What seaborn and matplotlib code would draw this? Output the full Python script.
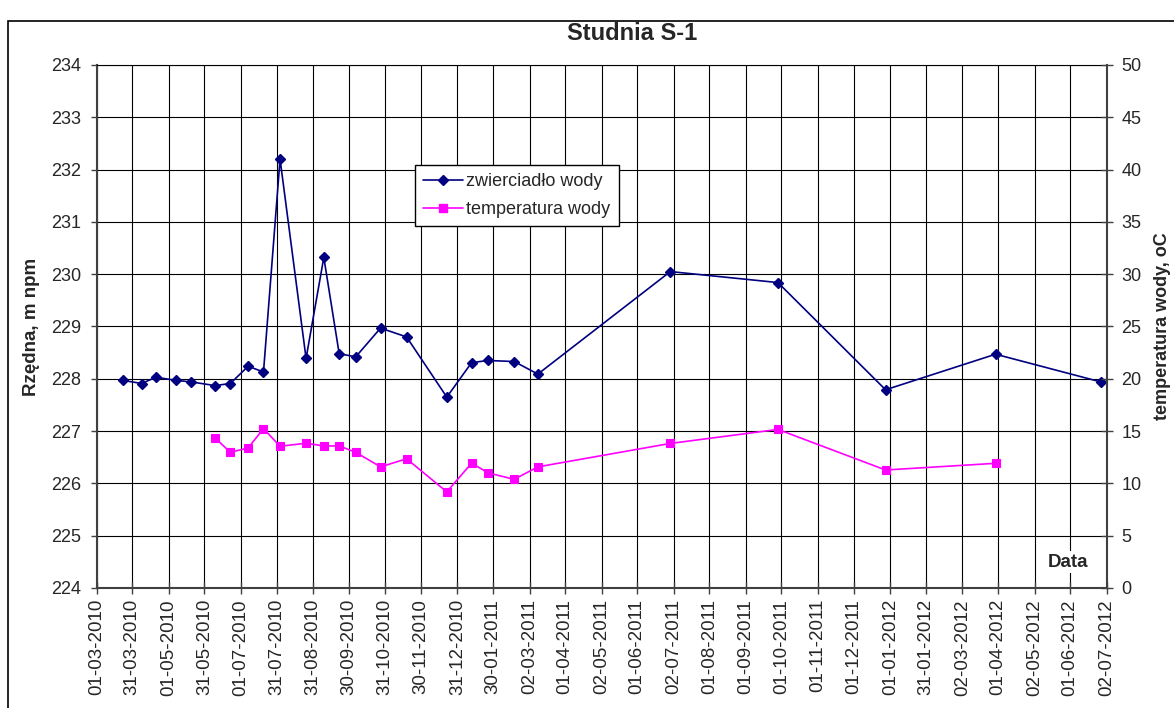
import matplotlib
matplotlib.use("Agg")
import matplotlib.pyplot as plt
from matplotlib.patches import Rectangle
from matplotlib.lines import Line2D
import seaborn as sns
import pandas as pd

# Measurement dates (water table)
dates = [
    "2010-03-23", "2010-04-08", "2010-04-20", "2010-05-07", "2010-05-20",
    "2010-06-09", "2010-06-22", "2010-07-07", "2010-07-20", "2010-08-03",
    "2010-08-25", "2010-09-09", "2010-09-22", "2010-10-06", "2010-10-27",
    "2010-11-18", "2010-12-22", "2011-01-12", "2011-01-26", "2011-02-17",
    "2011-03-09", "2011-06-29", "2011-09-28", "2011-12-28", "2012-03-30",
    "2012-06-27",
]
water_level = [
    227.97, 227.91, 228.03, 227.97, 227.94,
    227.87, 227.91, 228.24, 228.13, 232.20,
    228.39, 230.32, 228.48, 228.42, 228.97,
    228.80, 227.65, 228.31, 228.35, 228.33,
    228.09, 230.05, 229.84, 227.79, 228.47,
    227.94,
]

# Water temperature measurements
temp_dates = [
    "2010-06-09", "2010-06-22", "2010-07-07", "2010-07-20", "2010-08-03",
    "2010-08-25", "2010-09-09", "2010-09-22", "2010-10-06", "2010-10-27",
    "2010-11-18", "2010-12-22", "2011-01-12", "2011-01-26", "2011-02-17",
    "2011-03-09", "2011-06-29", "2011-09-28", "2011-12-28", "2012-03-30",
]
water_temp = [
    14.35, 12.97, 13.39, 15.23, 13.55,
    13.84, 13.58, 13.58, 12.97, 11.58,
    12.35, 9.19, 11.94, 11.00, 10.39,
    11.58, 13.82, 15.16, 11.28, 11.92,
]

x_tick_labels = [
    "01-03-2010", "31-03-2010", "01-05-2010", "31-05-2010", "01-07-2010",
    "31-07-2010", "31-08-2010", "30-09-2010", "31-10-2010", "30-11-2010",
    "31-12-2010", "30-01-2011", "02-03-2011", "01-04-2011", "02-05-2011",
    "01-06-2011", "02-07-2011", "01-08-2011", "01-09-2011", "01-10-2011",
    "01-11-2011", "01-12-2011", "01-01-2012", "31-01-2012", "02-03-2012",
    "01-04-2012", "02-05-2012", "01-06-2012", "02-07-2012",
]
level_ticks = list(range(224, 235))
temp_ticks = list(range(0, 55, 5))

sns.set_style("white")
plt.rcParams["font.family"] = ["Liberation Sans", "DejaVu Sans"]

fig = plt.figure(figsize=(11.74, 7.08), dpi=100)
ax = fig.add_axes([0.0824, 0.1695, 0.8603, 0.7387])
ax2 = ax.twinx()

df_level = pd.DataFrame({"data": pd.to_datetime(dates), "poziom": water_level})
df_temp = pd.DataFrame({"data": pd.to_datetime(temp_dates), "temp": water_temp})

navy = "#000080"
magenta = "#FF00FF"

sns.lineplot(data=df_level, x="data", y="poziom", ax=ax, color=navy,
             linewidth=1.2, marker="D", markersize=5.5, markeredgecolor=navy,
             markerfacecolor=navy, markeredgewidth=1.0, legend=False, zorder=5)
sns.lineplot(data=df_temp, x="data", y="temp", ax=ax2, color=magenta,
             linewidth=1.2, marker="s", markersize=5.8, markeredgecolor=magenta,
             markerfacecolor=magenta, markeredgewidth=0.8, legend=False, zorder=5)

tick_pos = pd.to_datetime(x_tick_labels, format="%d-%m-%Y")
ax.set_xlim(tick_pos[0], tick_pos[-1])
ax.set_xticks(tick_pos)
ax.set_xticklabels(x_tick_labels, rotation=90, fontsize=13.5)

ax.set_ylim(level_ticks[0], level_ticks[-1])
ax.set_yticks(level_ticks)
ax.set_yticklabels([str(v) for v in level_ticks], fontsize=13)
ax2.set_ylim(temp_ticks[0], temp_ticks[-1])
ax2.set_yticks(temp_ticks)
ax2.set_yticklabels([str(v) for v in temp_ticks], fontsize=13)

ax.grid(True, color="black", linewidth=0.8)
ax2.grid(False)
ax.set_axisbelow(True)

ax.tick_params(axis="x", direction="inout", length=8, width=1.0, pad=4,
               color="#404040", bottom=True)
ax.tick_params(axis="y", direction="out", length=4.3, width=1.0, pad=7,
               color="#404040", left=True)
ax2.tick_params(axis="y", direction="inout", length=8, width=1.0, pad=6.5,
                color="#404040", right=True)

for side in ["left", "bottom"]:
    ax.spines[side].set_color("#404040")
    ax.spines[side].set_linewidth(1.5)
ax.spines["right"].set_visible(False)
ax.spines["top"].set_color("black")
ax.spines["top"].set_linewidth(0.8)
for side in ["left", "bottom", "top"]:
    ax2.spines[side].set_visible(False)
ax2.spines["right"].set_color("#404040")
ax2.spines["right"].set_linewidth(1.5)

ax.set_xlabel("")
ax.set_ylabel("Rzędna, m npm", fontsize=13.5, fontweight="bold", labelpad=8)
ax2.set_ylabel("temperatura wody, oC", fontsize=13, fontweight="bold", labelpad=9)

ax.text(0.9617, 0.0497, "Data", transform=ax.transAxes, ha="center", va="center",
        fontsize=13.5, fontweight="bold", zorder=6,
        bbox=dict(facecolor="white", edgecolor="none", pad=1.5))

handles = [
    Line2D([], [], color=navy, linewidth=1.2, marker="D", markersize=5.5,
           markerfacecolor=navy, markeredgecolor=navy),
    Line2D([], [], color=magenta, linewidth=1.2, marker="s", markersize=5.8,
           markerfacecolor=magenta, markeredgecolor=magenta),
]
leg = ax2.legend(handles, ["zwierciadło wody", "temperatura wody"],
                 loc="upper left", bbox_to_anchor=(0.315, 0.809),
                 borderaxespad=0, fontsize=13, frameon=True, fancybox=False,
                 edgecolor="black", framealpha=1, handlelength=2.2,
                 handletextpad=0.2, labelspacing=0.6, borderpad=0.45)
leg.get_frame().set_linewidth(1.0)

fig.text(0.5385, 0.953, "Studnia S-1", ha="center", va="center",
         fontsize=17, fontweight="bold")

# Outer chart frame (right edge runs past the image border)
fig.add_artist(Rectangle((7.5 / 1174, -0.05), 1.05,
                         1 - 21 / 708 + 0.05, transform=fig.transFigure,
                         fill=False, edgecolor="black", linewidth=1.2))

fig.savefig("out.png", dpi=100)
